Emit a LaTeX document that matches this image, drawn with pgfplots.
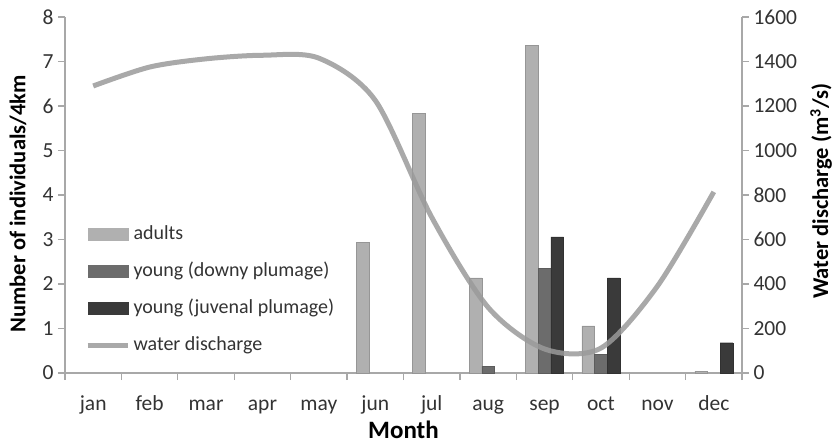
\documentclass[border=0pt]{standalone}
\usepackage{fontspec}
\setmainfont{Carlito}
\usepackage{pgfplots}
\pgfplotsset{compat=1.18}

\definecolor{cAd}{HTML}{B0B0B0}
\definecolor{cDo}{HTML}{6C6C6C}
\definecolor{cJu}{HTML}{3A3A3A}
\definecolor{cWa}{HTML}{9A9A9A}
\definecolor{axc}{HTML}{A8A8A8}

\pgfplotsset{
  common/.style={
    scale only axis, width=677pt, height=356pt,
    xmin=-0.5, xmax=11.5,
    axis line style={axc, line width=1.2pt},
    tick style={axc, line width=1.2pt},
    tick align=outside,
    major tick length=7pt, minor tick length=7pt,
    tick label style={font=\fontsize{21.5}{23}\selectfont, text=black!80},
    /pgf/number format/assume math mode=true,
    /pgf/number format/1000 sep={},
    label style={font=\fontsize{22.5}{25}\selectfont\bfseries, text=black},
  }
}

\begin{document}
\begin{tikzpicture}
\begin{axis}[common, name=ax,
  ybar=0pt, bar width=12.7pt,
  ymin=0, ymax=8, ytick={0,1,...,8},
  axis x line*=bottom, axis y line*=left,
  xtick={0,...,11},
  xticklabels={jan,feb,mar,apr,may,jun,jul,aug,sep,oct,nov,dec},
  major x tick style={draw=none},
  minor xtick={-0.5,0.5,...,11.5},
  xticklabel style={anchor=base, yshift=-30pt},
  yticklabel style={anchor=east, xshift=-1pt},
  xlabel={Month},
  xlabel style={at={(axis description cs:0.5,-0.185)}, anchor=base, font=\fontsize{25}{27}\selectfont\bfseries},
  ylabel={Number of individuals/4km},
  ylabel style={at={(axis description cs:-0.0694,0.475)}, anchor=center},
]
\addplot[fill=cAd, draw=cAd!85!black, line width=0.4pt] coordinates {(5,2.93) (6,5.83) (7,2.14) (8,7.36) (9,1.06) (11,0.03)};
\addplot[fill=cDo, draw=cDo!85!black, line width=0.4pt] coordinates {(7,0.15) (8,2.35) (9,0.42)};
\addplot[fill=cJu, draw=cJu!85!black, line width=0.4pt] coordinates {(8,3.06) (9,2.14) (11,0.68)};
\end{axis}

\begin{axis}[common,
  ymin=0, ymax=1600, ytick={0,200,...,1600},
  axis y line*=right, axis x line=none,
  yticklabel style={anchor=west, xshift=1pt},
  ylabel={Water discharge (m\textsuperscript{3}/s)},
  ylabel style={at={(axis description cs:1.1167,0.51)}, anchor=center, rotate=0},
  legend style={at={(axis description cs:0.0296,0.4157)}, anchor=north west,
    draw=none, fill=none, inner sep=0pt,
    font=\fontsize{20}{22}\selectfont, text=black!80,
    row sep=19pt,
    nodes={inner sep=0pt, anchor=west, text height=14pt, text depth=4pt}},
  legend cell align=left,
]
\addlegendimage{area legend, legend image code/.code={\fill[cAd] (0pt,-6pt) rectangle (40pt,6pt);}}
\addlegendentry{\,adults}
\addlegendimage{area legend, legend image code/.code={\fill[cDo] (0pt,-6pt) rectangle (40pt,6pt);}}
\addlegendentry{\,young (downy plumage)}
\addlegendimage{area legend, legend image code/.code={\fill[cJu] (0pt,-6pt) rectangle (40pt,6pt);}}
\addlegendentry{\,young (juvenal plumage)}
\addplot[cWa, line width=5pt, smooth, opacity=0.85,
  legend image code/.code={\draw[cWa, line width=5pt] (0pt,0pt) -- (40pt,0pt);}]
  coordinates {(0,1290) (1,1375) (2,1412) (3,1428) (4,1415) (5,1225) (6,700) (7,295) (8,108) (9,112) (10,390) (11,814)};
\addlegendentry{\,water discharge}
\end{axis}
\pgfresetboundingbox
\path (ax.south west) ++(-65pt,-71pt) rectangle ++(835pt,444pt);
\end{tikzpicture}
\end{document}
